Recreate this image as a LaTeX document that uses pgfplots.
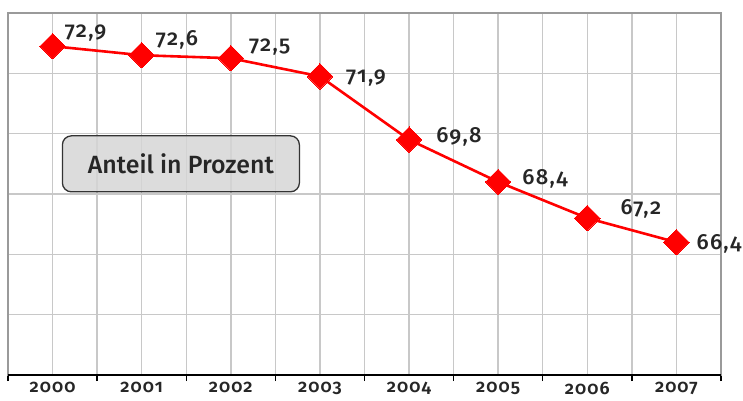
\documentclass[border=0pt]{standalone}
\usepackage{pgfplots}
\pgfplotsset{compat=1.18}
\usepackage{fontspec}
\setmainfont{Fira Sans}[Numbers=OldStyle]
\newfontfamily\fmed{Fira Sans Medium}[Numbers=OldStyle]
\newfontfamily\fsemi{Fira Sans SemiBold}[Numbers=OldStyle]
\definecolor{boxfill}{HTML}{D6D6D6}
\definecolor{gridc}{HTML}{C8C8C8}
\definecolor{framec}{HTML}{9A9A9A}
\begin{document}
\begin{tikzpicture}
\useasboundingbox (-8bp,-26bp) rectangle (735bp,375bp);
\begin{axis}[
  scale only axis, width=713bp, height=362bp,
  xmin=-0.5, xmax=7.5, ymin=62, ymax=74,
  xtick={0,1,2,3,4,5,6,7},
  xticklabels={2000,2001,2002,2003,2004,2005,2006,2007},
  minor xtick={-0.5,0.5,1.5,2.5,3.5,4.5,5.5,6.5,7.5},
  ytick={62,64,66,68,70,72,74}, yticklabels={},
  grid=both,
  major grid style={color=gridc, line width=1.4bp},
  minor grid style={color=gridc, line width=1.4bp},
  xtick pos=bottom, ytick pos=left,
  xtick align=outside,
  major tick length=0pt,
  minor tick length=6bp,
  minor x tick style={black, line width=1.3bp},
  axis line style={color=framec, line width=1.4bp},
  xticklabel style={font=\fontsize{18}{18}\fsemi\addfontfeatures{LetterSpace=6}, yshift=-4bp, text=black!85},
  clip=false,
]
\addplot[red, line width=2.6bp, mark=square*, mark size=9bp,
  mark options={rotate=45, fill=red, draw=red, line width=0pt}]
  coordinates {(0,72.9) (1,72.6) (2,72.5) (3,71.9) (4,69.8) (5,68.4) (6,67.2) (7,66.4)};
\draw[black, line width=1.6bp] (rel axis cs:0,0) -- (rel axis cs:1,0);
\begin{scope}[every node/.style={anchor=west, inner sep=0pt, font=\fontsize{22}{22}\fmed\addfontfeatures{LetterSpace=6}, text=black!85}]
\node[xshift=12bp, yshift=13bp] at (axis cs:0,72.9) {72,9};
\node[xshift=14bp, yshift=15bp] at (axis cs:1,72.6) {72,6};
\node[xshift=18bp, yshift=11bp] at (axis cs:2,72.5) {72,5};
\node[xshift=26bp, yshift=-2bp] at (axis cs:3,71.9) {71,9};
\node[xshift=27bp, yshift=3bp] at (axis cs:4,69.8) {69,8};
\node[xshift=24bp, yshift=3bp] at (axis cs:5,68.4) {68,4};
\node[xshift=33bp, yshift=9bp] at (axis cs:6,67.2) {67,2};
\node[xshift=20bp, yshift=-2bp] at (axis cs:7,66.4) {66,4};
\end{scope}
\node[draw=black!80, line width=1.3bp, fill=boxfill, fill opacity=0.85, text opacity=1,
  rounded corners=9bp, minimum width=237bp, minimum height=56bp,
  font=\fontsize{25}{25}\fmed, text=black!85]
  at (axis cs:1.44,69) {Anteil in Prozent};
\end{axis}
\end{tikzpicture}
\end{document}
